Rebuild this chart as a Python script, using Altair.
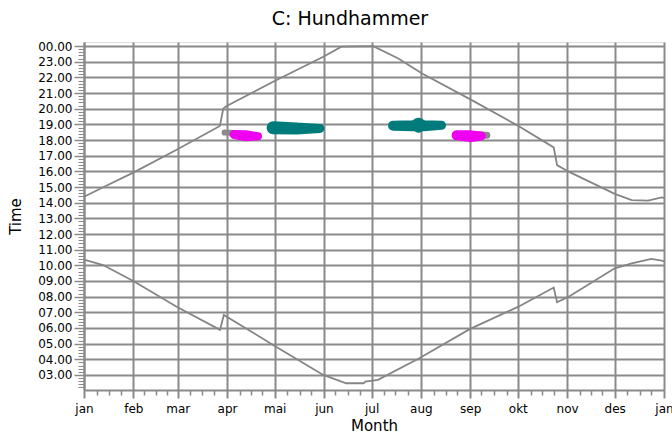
import altair as alt
import pandas as pd

# ---------------- data ----------------
MONTH_STARTS = [0, 31, 59, 90, 120, 151, 181, 212, 243, 273, 304, 334, 365]
MONTH_LABELS = ["jan", "feb", "mar", "apr", "mai", "jun", "jul", "aug", "sep", "okt", "nov", "des", "jan"]
HOUR_TICKS = list(range(3, 25))

sunset_day = [0, 14, 31, 58, 85.5, 87.7, 89.8, 119, 150.6, 162, 182, 197.8, 212.5, 244, 273.4, 295.6,
              297.7, 305, 334, 344.7, 355, 363.6, 365]
sunset_hour = [14.38, 15.08, 15.92, 17.36, 18.9, 20.02, 20.17, 21.72, 23.32, 23.96, 24.0, 23.21, 22.26,
               20.55, 18.9, 17.53, 16.4, 15.98, 14.56, 14.17, 14.13, 14.34, 14.3]

sunrise_day = [0, 12, 31, 58.3, 85.6, 88, 119, 150.6, 165, 176, 177, 185, 211, 243, 273.4, 295.6, 297.7,
               305, 334, 344.7, 357, 363.6, 365]
sunrise_hour = [10.36, 10.02, 9.0, 7.36, 5.88, 6.83, 4.92, 3.0, 2.47, 2.47, 2.58, 2.69, 4.07, 5.94, 7.36,
                8.58, 7.64, 8.0, 9.81, 10.13, 10.41, 10.3, 10.25]

# observation blobs: id, day, hour, stroke width, colour group
blob_id = ["g1", "g1", "m1", "m1", "m1", "t1", "t1", "t1",
           "t2", "t2", "t2", "t2", "t2", "g2", "g2", "m2", "m2", "m2"]
blob_day = [88.5, 95, 94.5, 102, 109.5, 119.0, 134, 148.5,
            194.5, 207, 210.5, 214, 225, 248, 253.5, 234.5, 243, 250]
blob_hour = [18.48, 18.45, 18.36, 18.28, 18.24, 18.78, 18.73, 18.74,
             18.92, 18.92, 18.95, 18.92, 18.94, 18.33, 18.3, 18.3, 18.25, 18.26]
blob_width = [6, 6, 9, 11, 8, 13, 12, 9,
              10, 11, 15, 11, 9, 7, 7, 10, 12, 9]
blob_color = ["gray", "gray", "magenta", "magenta", "magenta", "teal", "teal", "teal",
              "teal", "teal", "teal", "teal", "teal", "gray", "gray", "magenta", "magenta", "magenta"]

# minor ticks (quarter months on x, 12 minutes on y)
minor_x = []
for i in range(12):
    a, b = MONTH_STARTS[i], MONTH_STARTS[i + 1]
    for k in range(1, 4):
        minor_x.append(round(a + (b - a) * k / 4))
minor_y = [round(2.2 + i * 0.2, 2) for i in range(110) if 2.2 + i * 0.2 <= 24.2]

# ---------------- tables ----------------
rows = []
for i, (d, h) in enumerate(zip(sunset_day, sunset_hour)):
    rows.append({"series": "sunset", "day": d, "hour": h, "ord": i})
for i, (d, h) in enumerate(zip(sunrise_day, sunrise_hour)):
    rows.append({"series": "sunrise", "day": d, "hour": h, "ord": i})
lines_df = pd.DataFrame(rows)

blob_df = pd.DataFrame({"id": blob_id, "day": blob_day, "hour": blob_hour,
                        "w": blob_width, "c": blob_color})
blob_df["ord"] = range(len(blob_df))

GRID = "#8a8a8a"
LINE = "#858585"
FONT = "DejaVu Sans"

x_scale = alt.Scale(domain=[0, 365], nice=False, zero=False)
y_scale = alt.Scale(domain=[2.04, 24.26], nice=False, zero=False)

month_arr = "[" + ",".join(f"'{m}'" for m in MONTH_LABELS) + "]"
start_arr = "[" + ",".join(str(v) for v in MONTH_STARTS) + "]"
x_label_expr = f"{month_arr}[indexof({start_arr}, datum.value)]"
y_label_expr = "datum.value >= 24 ? '00.00' : (datum.value < 10 ? '0' : '') + datum.value + '.00'"

x_axis = alt.Axis(values=MONTH_STARTS, labelExpr=x_label_expr, title="Month", orient="bottom",
                  grid=True, gridColor=GRID, gridWidth=2, gridOpacity=1,
                  domain=True, domainColor=GRID, domainWidth=2,
                  ticks=True, tickColor=GRID, tickWidth=2, tickSize=8,
                  labelFont=FONT, labelFontSize=12, labelColor="black", labelPadding=5,
                  labelFlush=False, labelOverlap=False,
                  titleFont=FONT, titleFontSize=15, titleFontWeight="normal", titleColor="black",
                  titleY=40, titleBaseline="alphabetic")
y_axis = alt.Axis(values=HOUR_TICKS, labelExpr=y_label_expr, title="Time", orient="left",
                  grid=True, gridColor=GRID, gridWidth=2, gridOpacity=1,
                  domain=True, domainColor=GRID, domainWidth=2,
                  ticks=True, tickColor=GRID, tickWidth=1.5, tickSize=10,
                  labelFont=FONT, labelFontSize=12, labelColor="black", labelPadding=2,
                  labelFlush=False, labelOverlap=False,
                  titleFont=FONT, titleFontSize=15, titleFontWeight="normal", titleColor="black",
                  titleAngle=270, titleX=-69, titleY=174, titleAlign="center", titleBaseline="middle")

lines = alt.Chart(lines_df).mark_line(color=LINE, strokeWidth=1.8).encode(
    x=alt.X("day:Q", scale=x_scale, axis=x_axis),
    y=alt.Y("hour:Q", scale=y_scale, axis=y_axis),
    detail="series:N",
    order="ord:Q",
)

minor = alt.Chart(lines_df).mark_point(opacity=0).encode(
    x=alt.X("day:Q", scale=x_scale,
            axis=alt.Axis(values=minor_x, labels=False, title=None, grid=False, domain=False,
                          ticks=True, tickColor=GRID, tickWidth=1.5, tickSize=5, orient="bottom")),
    y=alt.Y("hour:Q", scale=y_scale,
            axis=alt.Axis(values=minor_y, labels=False, title=None, grid=False, domain=False,
                          ticks=True, tickColor=GRID, tickWidth=1, tickSize=6, orient="left")),
)

blobs = alt.Chart(blob_df).mark_trail().encode(
    x=alt.X("day:Q", scale=x_scale, axis=None),
    y=alt.Y("hour:Q", scale=y_scale, axis=None),
    size=alt.Size("w:Q", scale=None, legend=None),
    color=alt.Color("c:N", scale=alt.Scale(domain=["gray", "magenta", "teal"],
                                           range=["#8a8a8a", "#f000f0", "#007b7b"]), legend=None),
    detail="id:N",
    order="ord:Q",
)

chart = alt.layer(lines, minor, blobs).resolve_axis(x="independent", y="independent").properties(
    width=580,
    height=348,
    autosize=alt.AutoSizeParams(type="none"),
    padding={"left": 84, "top": 42, "right": 8, "bottom": 43},
    title=alt.TitleParams("C: Hundhammer", font=FONT, fontSize=19, fontWeight="normal",
                          color="black", anchor="middle", dx=-24, dy=21, offset=17,
                          baseline="alphabetic"),
).configure_view(strokeWidth=0).configure(background="white")

chart.save("out.html", embed_options={"renderer": "svg", "actions": False})
